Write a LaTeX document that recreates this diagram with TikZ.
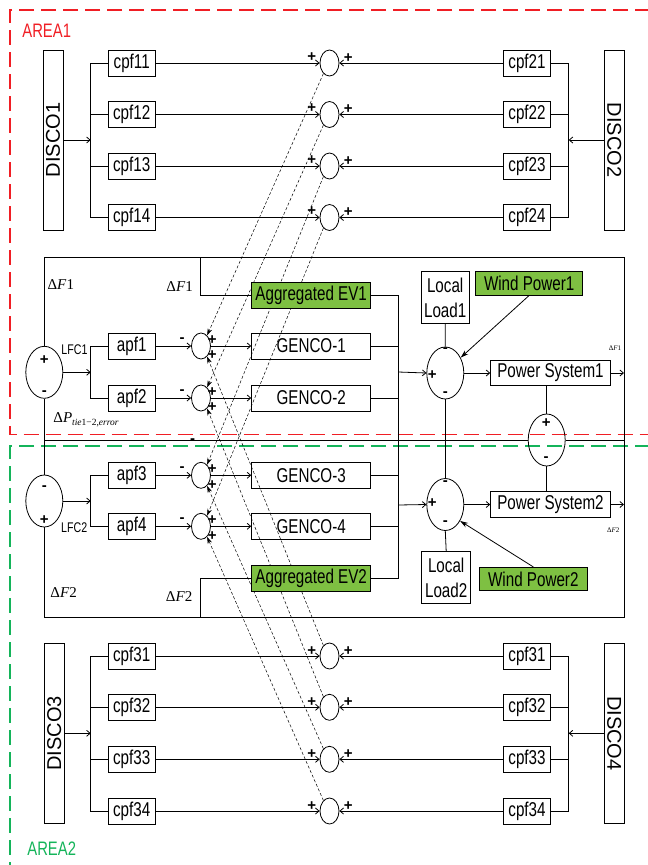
\documentclass[tikz,border=0pt]{standalone}
\usepackage{fontspec}
\setmainfont{Liberation Sans}
\newfontfamily\nar{Liberation Sans}[FakeStretch=0.76]
\newfontfamily\tms{Liberation Serif}
\usetikzlibrary{arrows.meta,shapes.geometric}
\definecolor{evgreen}{RGB}{126,192,66}
\definecolor{areared}{RGB}{240,30,36}
\definecolor{areagreen}{RGB}{20,180,90}
\tikzset{
  every path/.style={line width=0.8pt},
  box/.style={draw, line width=0.9pt, minimum width=46.7, minimum height=26, inner sep=0, font=\nar\fontsize{20}{24}\selectfont},
  wbox/.style={box, minimum width=119},
  gbox/.style={wbox, fill=evgreen},
  disco/.style={draw, line width=0.9pt, minimum width=180, minimum height=20, inner sep=0, font=\fontsize{20}{24}\selectfont},
  sumc/.style={draw, ellipse, line width=0.8pt, minimum width=19, minimum height=26, inner sep=0},
  bigsum/.style={draw, ellipse, line width=0.8pt, minimum width=37, minimum height=52, inner sep=0},
  sg/.style={inner sep=0, font=\bfseries\fontsize{15}{15}\selectfont},
  arr/.style={-{Straight Barb[length=3.5pt,width=6pt]}},
  dsh/.style={dash pattern=on 3pt off 2pt, line width=0.5pt, -{Stealth[length=7pt,width=4.5pt]}},
  sarr/.style={line width=0.8pt, -{Stealth[length=8pt,width=5pt]}},
  lbl/.style={inner sep=0, font=\tms\fontsize{15}{15}\selectfont},
  slbl/.style={inner sep=0, font=\tms\fontsize{7}{7}\selectfont},
  area/.style={line width=1.6pt, dash pattern=on 15pt off 7pt}
}
\begin{document}
\begin{tikzpicture}[x=1pt,y=-1pt]
\useasboundingbox (0,0) rectangle (648,865);
% area frames
\draw[area, areared] (650,10) -- (10,10) -- (10,434.5) -- (650,434.5);
\draw[area, areagreen] (650,446) -- (10,446) -- (10,867);
\node[inner sep=0, text=areared, font=\nar\fontsize{19.5}{20}\selectfont] (area1) at (46.7,31) {AREA1};
\node[inner sep=0, text=areagreen, font=\nar\fontsize{19.5}{20}\selectfont] (area2) at (51.7,848.3) {AREA2};

% ---------------- top section
\node[disco, rotate=90] (disco1) at (53,140) {DISCO1};
\node[disco, rotate=-90] (disco2) at (614.2,140) {DISCO2};
\coordinate (busA) at (90.7,140);
\coordinate (busB) at (568.7,140);
\foreach \i/\y in {1/63,2/114.5,3/166,4/217.5} {
  \node[box] (cpfL1\i) at (131.7,\y) {cpf1\i};
  \node[box] (cpfR1\i) at (527,\y) {cpf2\i};
  \node[sumc] (tc\i) at (329.5,\y) {};
  \node[sg] (tcl\i) at (311.7,\y-6) {+};
  \node[sg] (tcr\i) at (348.3,\y-5) {+};
  \draw[arr] (cpfL1\i.east) -- (tc\i.west);
  \draw[arr] (cpfR1\i.west) -- (tc\i.east);
}
\draw (cpfL11.west) -| (busA) |- (cpfL14.west);
\draw (busA |- cpfL12.west) -- (cpfL12.west);
\draw (busA |- cpfL13.west) -- (cpfL13.west);
\draw[arr] (disco1.south) -- (busA);
\draw (cpfR11.east) -| (busB) |- (cpfR14.east);
\draw (busB |- cpfR12.east) -- (cpfR12.east);
\draw (busB |- cpfR13.east) -- (cpfR13.east);
\draw[arr] (disco2.south) -- (busB);

% ---------------- bottom section
\node[disco, rotate=90] (disco3) at (54.3,733.3) {DISCO3};
\node[disco, rotate=-90] (disco4) at (614.2,733.3) {DISCO4};
\coordinate (busC) at (90.7,733.3);
\coordinate (busD) at (568.7,733.3);
\foreach \i/\y in {1/656,2/707.3,3/759.3,4/811} {
  \node[box] (cpfL3\i) at (131.7,\y) {cpf3\i};
  \node[box] (cpfR3\i) at (527,\y) {cpf3\i};
  \node[sumc] (bc\i) at (329.5,\y) {};
  \node[sg] (bcl\i) at (311.7,\y-5) {+};
  \node[sg] (bcr\i) at (348.3,\y-5) {+};
  \draw[arr] (cpfL3\i.east) -- (bc\i.west);
  \draw[arr] (cpfR3\i.west) -- (bc\i.east);
}
\draw (cpfL31.west) -| (busC) |- (cpfL34.west);
\draw (busC |- cpfL32.west) -- (cpfL32.west);
\draw (busC |- cpfL33.west) -- (cpfL33.west);
\draw[arr] (disco3.south) -- (busC);
\draw (cpfR31.east) -| (busD) |- (cpfR34.east);
\draw (busD |- cpfR32.east) -- (cpfR32.east);
\draw (busD |- cpfR33.east) -- (cpfR33.east);
\draw[arr] (disco4.south) -- (busD);

% ---------------- middle section
\coordinate (fTL) at (44.3,257);
\coordinate (fTR) at (624,257);
\coordinate (fBR) at (624,617);
\coordinate (fBL) at (44.3,617);
\coordinate (br1) at (200.7,257);
\coordinate (br2) at (200.7,617);

\node[bigsum] (lfc1) at (44.3,372.3) {};
\node[bigsum] (lfc2) at (44.3,501) {};
\node[sg] (lfc1p) at (44.3,360) {+};
\node[sg] (lfc1m) at (44.3,393.5) {-};
\node[sg] (lfc2m) at (44.3,488.5) {-};
\node[sg] (lfc2p) at (44.3,520.5) {+};
\node[inner sep=0, font=\nar\fontsize{14}{14}\selectfont] (lfc1l) at (74.5,350) {LFC1};
\node[inner sep=0, font=\nar\fontsize{14}{14}\selectfont] (lfc2l) at (74.2,528) {LFC2};

\coordinate (busM1) at (90.7,372.3);
\coordinate (busM2) at (90.7,501);
\coordinate (busR1) at (398.3,372);
\coordinate (busR2) at (398.3,505);

\foreach \i/\y in {1/346,2/398,3/475.3,4/526.3} {
  \node[box] (apf\i) at (131.7,\y) {apf\i};
  \node[sumc] (mc\i) at (201,\y) {};
  \node[wbox] (g\i) at (311.2,\y) {GENCO-\i};
  \node[sg] (mcm\i) at (182.2,\y-6) {-};
  \node[sg] (mcp\i) at (212.2,\y-6) {+};
  \node[sg] (mcq\i) at (212.2,\y+9.5) {+};
  \draw[arr] (apf\i.east) -- (mc\i.west);
  \draw[arr] (mc\i.east) -- (g\i.west);
  \draw (g\i.east) -- (g\i.east -| busR1);
  \draw[dsh] (tc\i.240) -- (mc\i.60);
  \draw[dsh] (bc\i.120) -- (mc\i.-60);
}
\node[gbox] (ev1) at (311.2,295) {Aggregated EV1};
\node[gbox] (ev2) at (311.2,578.7) {Aggregated EV2};

\draw[arr] (lfc1.east) -- (busM1);
\draw (apf1.west) -| (busM1) |- (apf2.west);
\draw[arr] (lfc2.east) -- (busM2);
\draw (apf3.west) -| (busM2) |- (apf4.west);

\draw (ev1.east) -| (busR1 |- ev2.east) -- (ev2.east);

\node[bigsum] (s1) at (445.3,373) {};
\node[bigsum] (s2) at (445.3,504.5) {};
\node[sg] (s1m) at (445.3,350) {-};
\node[sg] (s1p) at (432.3,375) {+};
\node[sg] (s1n) at (445.3,394) {-};
\node[sg] (s2m) at (445.3,483.3) {-};
\node[sg] (s2p) at (432.3,502.7) {+};
\node[sg] (s2n) at (445.3,522.7) {-};
\draw[arr] (busR1) -- (s1.west);
\draw[arr] (busR2) -- (s2.west);

\node[box, minimum width=48, minimum height=51.6, align=center, font=\nar\fontsize{20}{25}\selectfont] (ll1) at (445.2,297.5) {Local\\Load1};
\node[box, minimum width=49, minimum height=52, align=center, font=\nar\fontsize{20}{25}\selectfont] (ll2) at (446.2,577.8) {Local\\Load2};
\node[box, fill=evgreen, minimum width=107, minimum height=23.3] (wp1) at (529.2,283.3) {Wind Power1};
\node[box, fill=evgreen, minimum width=108.7, minimum height=23.3] (wp2) at (533.3,579) {Wind Power2};
\draw (ll1.south) -- (s1.north);
\draw (s1.south) -- (s2.north);
\draw (s2.south) -- (ll2.north);
\draw[sarr] (wp1.south) -- (s1.45);
\draw[sarr] (wp2.north) -- (s2.-48);

\node[wbox, minimum width=119.6, minimum height=25.7] (ps1) at (550.5,373) {Power System1};
\node[wbox, minimum width=119.6, minimum height=25.7] (ps2) at (550.5,504.5) {Power System2};
\draw[arr] (s1.east) -- (ps1.west);
\draw[arr] (s2.east) -- (ps2.west);
\draw[arr] (ps1.east) -- (ps1.east -| fTR);
\draw[arr] (ps2.east) -- (ps2.east -| fTR);

\node[bigsum] (tie) at (546.7,440) {};
\node[sg] (tiep) at (546.2,422.7) {+};
\node[sg] (tiem) at (546.2,459.5) {-};
\draw (tie.north) -- (tie.north |- ps1.south);
\draw (tie.south) -- (tie.south |- ps2.north);
\draw (tie.west) -- (tie.west -| lfc1.south);
\draw (tie.east) -- (tie.east -| fTR);
\draw (lfc1.south) -- (lfc2.north);

\draw (lfc1.north) -- (fTL) -- (fTR) -- (fBR) -- (fBL) -- (lfc2.south);
\draw (br1) |- (ev1.west);
\draw (br2) |- (ev2.west);

\node[lbl] (dfa) at (60.8,285) {Δ\textit{F}1};
\node[lbl] (dfb) at (179.7,286.5) {Δ\textit{F}1};
\node[lbl] (dfc) at (63.7,593) {Δ\textit{F}2};
\node[lbl] (dfd) at (179.2,597) {Δ\textit{F}2};
\node[lbl, anchor=west] (dp) at (53,420) {Δ\textit{P}\raisebox{-3.5pt}{\fontsize{9.5}{9.5}\selectfont\textit{tie}1−2,\textit{error}}};
\node[slbl] (dfs1) at (615,348.3) {Δ\textit{F}1};
\node[slbl] (dfs2) at (613.3,530) {Δ\textit{F}2};
\node[sg] (stray) at (192.5,441) {-};
\end{tikzpicture}
\end{document}
